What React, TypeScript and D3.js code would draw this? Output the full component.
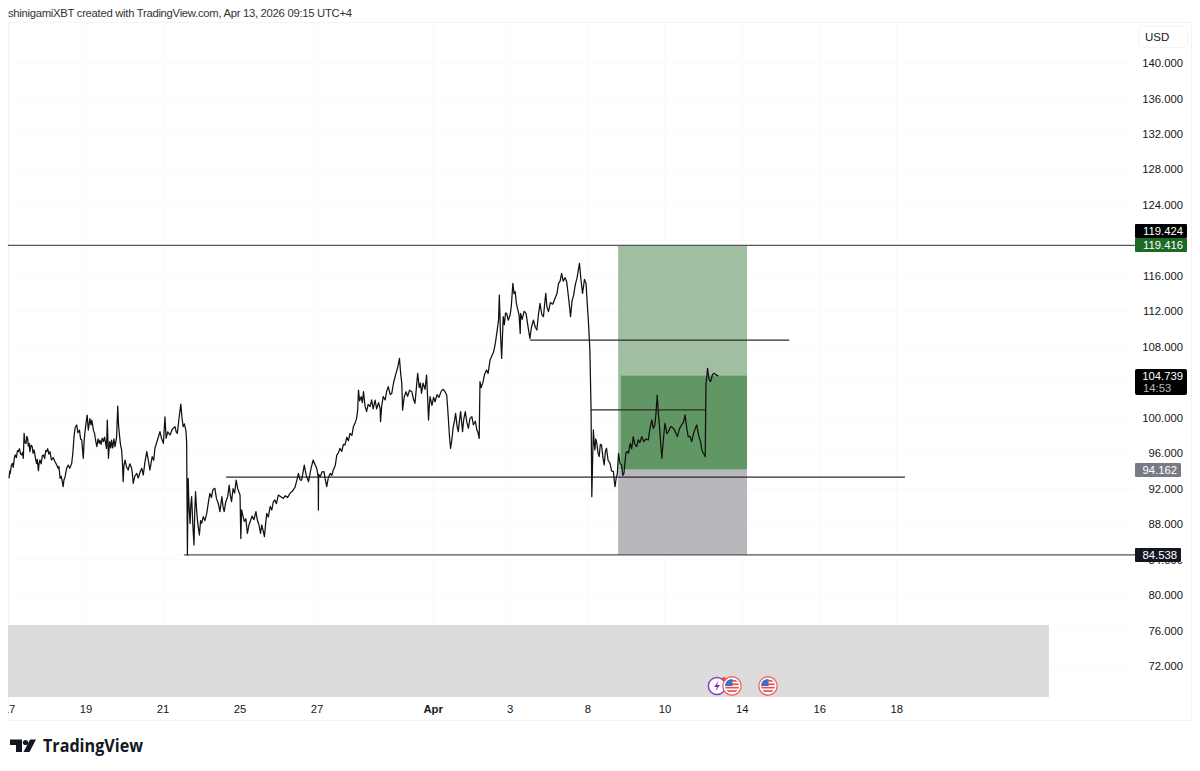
import React from 'react';
import * as d3 from 'd3';

const WIDTH = 1200;
const HEIGHT = 771;

type Bar = [number, number];

// [trading sessions since the first label, price]
const stretchMarchEarly: Bar[] = [
  [0, 93.16], [0.02, 94.0], [0.03, 93.7], [0.06, 94.6], [0.09, 94.85], [0.11, 94.4], [0.14, 95.5], [0.16, 95.8], [0.19, 95.5], [0.22, 96.3],
  [0.24, 96.17], [0.27, 96.5], [0.3, 95.9], [0.33, 95.8], [0.35, 96.1], [0.37, 95.42], [0.39, 98.23], [0.41, 97.2], [0.44, 97.1], [0.46, 97.9],
  [0.48, 97.67], [0.5, 96.8], [0.52, 97.1], [0.54, 96.17], [0.57, 96.9], [0.6, 96.73], [0.62, 96.0], [0.65, 96.36], [0.68, 95.5], [0.71, 94.85],
  [0.73, 95.3], [0.76, 94.02], [0.78, 94.9], [0.8, 95.23], [0.83, 94.8], [0.86, 95.7], [0.89, 95.8], [0.92, 95.4], [0.95, 96.3], [0.97, 96.17],
  [1.0, 96.5], [1.03, 95.9], [1.06, 96.17], [1.08, 95.6], [1.1, 95.23], [1.14, 95.5], [1.19, 95.04], [1.23, 94.7], [1.27, 94.29], [1.29, 94.5],
  [1.32, 93.16], [1.35, 93.4], [1.4, 92.22], [1.42, 93.0], [1.45, 93.35], [1.49, 94.3], [1.53, 94.66], [1.57, 94.3], [1.62, 94.85], [1.65, 96.0],
  [1.68, 97.86], [1.71, 98.9], [1.75, 99.18], [1.78, 98.3], [1.82, 98.61], [1.85, 97.6], [1.88, 97.48], [1.9, 96.4], [1.92, 95.42], [1.94, 97.3],
  [1.96, 98.23], [1.99, 99.4], [2.02, 100.3], [2.04, 99.1], [2.05, 98.61], [2.09, 99.9], [2.12, 99.2], [2.14, 99.74], [2.18, 98.6], [2.21, 98.23],
  [2.24, 97.4], [2.27, 96.73], [2.3, 97.6], [2.33, 97.1], [2.35, 97.48], [2.38, 97.0], [2.41, 97.7], [2.44, 97.3], [2.47, 97.8], [2.5, 97.0],
  [2.52, 96.54], [2.54, 99.74], [2.57, 95.42], [2.6, 97.3], [2.63, 96.6], [2.65, 97.48], [2.68, 96.6], [2.71, 97.6], [2.74, 96.73], [2.78, 97.8],
  [2.81, 101.32], [2.83, 99.2], [2.85, 98.23], [2.88, 97.0], [2.91, 96.36], [2.93, 95.0], [2.95, 92.78], [2.97, 94.6], [3.0, 95.23], [3.04, 94.4],
  [3.08, 94.1], [3.12, 94.8], [3.17, 94.29], [3.19, 93.6], [3.21, 92.6], [3.25, 93.4], [3.3, 93.72], [3.34, 93.2], [3.39, 93.91], [3.43, 94.3],
  [3.47, 93.54], [3.51, 94.9], [3.56, 96.17], [3.6, 95.2], [3.64, 94.1], [3.7, 95.6], [3.74, 95.2], [3.77, 96.54], [3.83, 97.4], [3.9, 98.42],
  [3.94, 97.7], [3.99, 97.1], [4.03, 100.1], [4.06, 97.67], [4.1, 98.4], [4.16, 98.05], [4.22, 98.7], [4.29, 98.99], [4.32, 98.4], [4.35, 98.23],
  [4.39, 99.8], [4.44, 101.54], [4.47, 100.0], [4.5, 98.99], [4.53, 99.3], [4.57, 98.61], [4.59, 97.3], [4.61, 84.51],
];

const stretchMarchLow: Bar[] = [
  [4.63, 93.16], [4.65, 90.2], [4.68, 88.08], [4.7, 90.3], [4.72, 91.09], [4.75, 87.9], [4.78, 85.64], [4.8, 89.4], [4.82, 91.66], [4.85, 89.4],
  [4.88, 88.0], [4.92, 86.77], [4.95, 88.4], [4.98, 88.1], [5.02, 88.84], [5.06, 88.4], [5.11, 89.21], [5.15, 90.4], [5.19, 91.47], [5.23, 91.0],
  [5.27, 91.9], [5.32, 92.03], [5.36, 90.9], [5.41, 90.3], [5.45, 89.4], [5.5, 91.09], [5.53, 90.0], [5.56, 89.4], [5.6, 90.5], [5.65, 91.1],
  [5.69, 92.41], [5.72, 91.2], [5.75, 90.53], [5.79, 92.0], [5.83, 91.5], [5.87, 92.97], [5.91, 92.0], [5.97, 91.28], [5.99, 86.39], [6.01, 89.6],
  [6.04, 89.02], [6.08, 88.3], [6.12, 88.6], [6.16, 86.96], [6.2, 87.9], [6.23, 88.27], [6.28, 88.9], [6.33, 88.5], [6.38, 89.4], [6.42, 88.4],
  [6.46, 87.9], [6.5, 86.96], [6.53, 87.9], [6.57, 87.2], [6.6, 86.58], [6.63, 88.0], [6.66, 89.21], [6.7, 88.8], [6.75, 90.0], [6.79, 89.59],
  [6.83, 90.5], [6.87, 90.72], [6.91, 90.3], [6.96, 91.28],
];

const stretchRally: Bar[] = [
  [7.05, 91.0], [7.09, 90.9], [7.14, 91.2], [7.2, 91.0], [7.26, 91.47], [7.32, 91.7], [7.39, 92.14], [7.44, 93.0], [7.48, 93.72], [7.52, 93.0],
  [7.56, 92.97], [7.6, 93.9], [7.63, 94.66], [7.68, 93.5], [7.74, 92.78], [7.8, 94.2], [7.86, 95.23], [7.91, 94.7], [7.95, 94.29], [7.99, 93.35],
  [7.995, 89.59], [8.0, 93.6], [8.04, 93.35], [8.09, 93.9], [8.14, 93.91], [8.17, 93.1], [8.21, 92.22], [8.25, 93.2], [8.3, 93.72], [8.34, 93.5],
  [8.38, 94.1], [8.43, 94.6], [8.47, 95.79], [8.51, 96.0], [8.55, 96.54], [8.6, 96.2], [8.64, 97.0], [8.68, 96.92], [8.73, 97.8], [8.77, 97.4],
  [8.81, 98.23], [8.86, 98.0], [8.9, 99.0], [8.94, 99.36], [8.98, 99.9], [9.01, 100.86], [9.03, 103.12], [9.06, 101.9], [9.1, 102.37], [9.13, 101.7],
  [9.16, 102.93], [9.2, 101.3], [9.24, 100.68], [9.28, 101.5], [9.33, 101.24], [9.37, 102.0], [9.41, 101.0], [9.46, 101.99], [9.5, 101.0], [9.55, 101.7],
  [9.59, 101.05], [9.6, 99.55], [9.63, 101.3], [9.67, 102.37], [9.72, 102.0], [9.76, 103.0], [9.8, 103.5], [9.85, 102.6], [9.89, 102.75], [9.94, 104.0],
  [10.0, 105.0], [10.04, 105.6], [10.09, 106.69], [10.12, 105.0], [10.15, 103.87], [10.17, 100.86], [10.21, 102.3], [10.26, 102.93], [10.3, 102.4], [10.35, 103.1],
  [10.41, 102.93], [10.45, 102.1], [10.49, 101.62], [10.53, 103.5], [10.56, 105.0], [10.6, 103.4], [10.63, 103.9], [10.66, 102.75], [10.7, 103.9], [10.75, 103.2],
  [10.79, 104.81], [10.82, 102.0], [10.84, 99.74], [10.86, 101.2], [10.88, 102.37], [10.93, 101.4], [10.97, 102.3], [11.01, 101.8], [11.06, 102.6], [11.11, 102.3],
  [11.17, 103.0], [11.22, 103.2], [11.27, 102.9], [11.31, 102.56], [11.33, 101.4], [11.35, 100.11], [11.38, 98.0], [11.41, 96.54], [11.44, 97.4], [11.48, 99.0],
  [11.51, 99.6], [11.54, 100.49], [11.58, 99.0], [11.61, 98.42], [11.64, 99.7], [11.67, 100.68], [11.7, 99.3], [11.72, 98.42], [11.75, 99.8], [11.79, 100.68],
  [11.83, 99.5], [11.87, 98.8], [11.91, 99.9], [11.96, 100.11], [12.0, 99.2], [12.05, 99.6], [12.09, 98.61], [12.12, 98.3], [12.15, 97.67],
];

const stretchPeak: Bar[] = [
  [12.17, 104.06], [12.2, 103.4], [12.24, 103.87], [12.29, 104.9], [12.34, 105.38], [12.38, 105.0], [12.43, 106.5], [12.47, 106.9], [12.52, 107.4], [12.56, 108.2],
  [12.6, 109.4], [12.65, 111.0], [12.67, 113.83], [12.7, 109.5], [12.73, 106.69], [12.75, 109.0], [12.77, 111.39], [12.8, 110.5], [12.83, 111.8], [12.86, 111.77],
  [12.9, 111.0], [12.95, 111.58], [12.98, 112.6], [13.02, 115.15], [13.05, 114.0], [13.08, 114.21], [13.11, 112.9], [13.14, 112.33], [13.18, 111.6], [13.21, 109.51],
  [13.22, 111.77], [13.26, 111.1], [13.31, 112.0], [13.36, 111.77], [13.41, 110.3], [13.46, 108.95], [13.5, 110.2], [13.55, 111.0], [13.6, 110.2], [13.64, 109.89],
  [13.68, 111.6], [13.72, 112.9], [13.77, 111.6], [13.81, 111.39], [13.84, 112.8], [13.87, 114.02], [13.9, 112.5], [13.94, 111.96], [13.99, 113.0], [14.05, 112.8],
  [14.11, 113.46], [14.16, 114.0], [14.2, 115.15], [14.24, 115.4], [14.28, 116.28], [14.32, 115.4], [14.37, 115.8], [14.41, 115.34], [14.46, 113.5], [14.51, 111.39],
  [14.55, 113.2], [14.59, 113.8], [14.63, 114.96], [14.68, 115.8], [14.74, 117.4], [14.78, 115.5], [14.82, 114.02], [14.87, 115.6], [14.91, 115.15], [14.94, 113.0],
  [14.97, 111.0], [15.01, 107.63], [15.04, 100.94],
];

const stretchApril: Bar[] = [
  [15.06, 91.1], [15.08, 95.0], [15.1, 98.62], [15.12, 97.2], [15.14, 96.36], [15.16, 97.6], [15.19, 97.11], [15.22, 96.0], [15.25, 95.61], [15.28, 97.0],
  [15.31, 96.93], [15.35, 95.4], [15.38, 94.67], [15.41, 96.2], [15.44, 96.55], [15.48, 95.2], [15.53, 94.86], [15.57, 94.0], [15.62, 93.92], [15.64, 92.9],
  [15.66, 92.23], [15.69, 93.2], [15.72, 93.73], [15.75, 95.99], [15.79, 94.8], [15.83, 94.67], [15.86, 93.5], [15.89, 93.73], [15.94, 95.99], [15.98, 96.2],
  [16.01, 96.0], [16.05, 97.11], [16.09, 96.5], [16.13, 97.87], [16.17, 97.0], [16.22, 96.74], [16.26, 97.5], [16.3, 97.2], [16.35, 97.87], [16.4, 97.3],
  [16.46, 97.6], [16.52, 97.49], [16.56, 98.7], [16.61, 99.75], [16.65, 98.8], [16.69, 99.18], [16.72, 100.6], [16.75, 102.56], [16.78, 100.4], [16.81, 98.99],
  [16.84, 97.0], [16.87, 95.42], [16.91, 97.6], [16.95, 99.37], [17.0, 98.2], [17.04, 98.43], [17.1, 99.0], [17.17, 98.8], [17.22, 98.4], [17.27, 97.87],
  [17.33, 98.8], [17.38, 99.18], [17.43, 99.5], [17.47, 100.31], [17.51, 98.9], [17.55, 97.87], [17.6, 97.9], [17.64, 97.3], [17.7, 98.4], [17.77, 99.18],
  [17.82, 98.0], [17.87, 97.3], [17.9, 96.4], [17.94, 95.99], [17.97, 95.8], [17.99, 95.61], [18.01, 103.88], [18.03, 104.6], [18.05, 105.57], [18.09, 104.3],
  [18.13, 104.07], [18.18, 104.9], [18.22, 105.0], [18.28, 104.8], [18.33, 104.71],
];

const bars = [...stretchMarchEarly, ...stretchMarchLow, ...stretchRally, ...stretchPeak, ...stretchApril];

const priceTicks = [140, 136, 132, 128, 124, 120, 116, 112, 108, 104, 100, 96, 92, 88, 84, 80, 76, 72];
// these two sit fully behind the price labels
const hiddenTicks = [120, 104];
const timeLabels = ['17', '19', '21', '25', '27', 'Apr', '3', '8', '10', '14', '16', '18'];
const timeTicks = [0, 1.99, 3.98, 5.97, 7.96, 10.96, 12.95, 14.96, 16.95, 18.95, 20.95, 22.94];

// drawn levels: price, from session, to session
const levelPrices = [119.424, 108.75, 100.88, 93.3, 84.538];
const levelStart = [-0.03, 13.46, 15.04, 5.61, 4.52];
const levelEnd = [29.1, 20.16, 18.01, 23.15, 29.1];

const targetPrice = 119.416;
const entryPrice = 94.162;
const stopPrice = 84.538;
const lastPrice = 104.739;
const boxStart = 15.74;
const boxFill = 15.81;
const boxEnd = 19.07;

const x = d3.scaleLinear().domain([0, 10]).range([9, 396]);
const y = d3.scaleLinear().domain([140, 72]).range([63, 666]);

const FONT = '"Liberation Sans", Arial, sans-serif';
const TICK_SIZE = 11.3;

const FlagIcon: React.FC<{ cx: number; cy: number; id: string }> = ({ cx, cy, id }) => (
  <g>
    <clipPath id={id}>
      <circle cx={cx} cy={cy} r={7} />
    </clipPath>
    <circle cx={cx} cy={cy} r={9.2} fill="#fff" stroke="#ef6b64" strokeWidth={1.4} />
    <g clipPath={`url(#${id})`}>
      <rect x={cx - 7} y={cy - 7} width={14} height={14} fill="#fff" />
      {d3.range(0, 4).map((i) => (
        <rect key={i} x={cx - 7} y={cy - 6 + i * 3.4} width={14} height={1.7} fill="#e5524c" />
      ))}
      <rect x={cx - 7} y={cy - 7} width={7.5} height={7} fill="#3d6fd1" />
    </g>
  </g>
);

const App: React.FC = () => {
  const line = d3
    .line<Bar>()
    .x((d) => x(d[0]))
    .y((d) => y(d[1]));

  return (
    <svg
      width={WIDTH}
      height={HEIGHT}
      style={{ position: 'absolute', left: 0, top: 0, background: '#fff', fontFamily: FONT }}
    >
      <defs>
        <clipPath id="pane">
          <rect x={8} y={22} width={1184} height={700} />
        </clipPath>
        <clipPath id="below-stop">
          <rect x={1130} y={562} width={60} height={6} />
        </clipPath>
      </defs>

      <text x={8} y={17} fontSize={11.3} fill="#333" textLength={344} lengthAdjust="spacing">
        shinigamiXBT created with TradingView.com, Apr 13, 2026 09:15 UTC+4
      </text>

      {/* frame and faint grid */}
      <g stroke="#fafafb" strokeWidth={1}>
        {priceTicks.map((p) => (
          <line key={p} x1={8} x2={1135} y1={y(p)} y2={y(p)} />
        ))}
        {timeTicks.map((t) => (
          <line key={t} x1={x(t)} x2={x(t)} y1={22} y2={697} />
        ))}
      </g>
      <rect x={8.5} y={22.5} width={1183} height={698} fill="none" stroke="#f3f4f6" />

      {/* session band at the bottom */}
      <rect x={8} y={625} width={1041} height={72} fill="#dcdcdc" />

      {/* long position box */}
      <rect x={x(boxStart)} width={x(boxEnd) - x(boxStart)} y={y(targetPrice)} height={y(entryPrice) - y(targetPrice)} fill="#a0bea1" />
      <rect x={x(boxStart)} width={x(boxEnd) - x(boxStart)} y={y(entryPrice)} height={y(stopPrice) - y(entryPrice)} fill="#b8b8bc" />
      <rect x={x(boxFill)} width={x(boxEnd) - x(boxFill)} y={y(lastPrice)} height={y(entryPrice) - y(lastPrice)} fill="#619665" />

      {/* levels */}
      {levelPrices.map((p, i) => (
        <line
          key={p}
          x1={x(levelStart[i])}
          x2={x(levelEnd[i])}
          y1={y(p)}
          y2={y(p)}
          stroke={i === 0 || i === 4 ? '#555' : '#2a2a2a'}
          strokeWidth={1.3}
        />
      ))}

      <g clipPath="url(#pane)">
        <path d={line(bars) ?? ''} fill="none" stroke="#111" strokeWidth={1.25} strokeLinejoin="round" />
      </g>

      {/* price axis */}
      <rect x={1138.5} y={26.5} width={49} height={21} rx={4} fill="#fff" stroke="#f4f4f5" />
      <text x={1145} y={41} fontSize={11.5} fill="#131722">
        USD
      </text>
      {priceTicks
        .filter((p) => !hiddenTicks.includes(p) && p !== 84)
        .map((p) => (
          <text key={p} x={1183} y={y(p)} dy="0.36em" fontSize={TICK_SIZE} textAnchor="end" fill="#131722">
            {d3.format('.3f')(p)}
          </text>
        ))}
      <text x={1183} y={y(84)} dy="0.36em" fontSize={TICK_SIZE} textAnchor="end" fill="#131722" clipPath="url(#below-stop)">
        84.000
      </text>

      <rect x={1135} y={224} width={52} height={14} rx={1} fill="#000" />
      <text x={1183} y={235} fontSize={TICK_SIZE} textAnchor="end" fill="#fff">119.424</text>
      <rect x={1135} y={238} width={52} height={14} rx={1} fill="#1d6a27" />
      <text x={1183} y={249} fontSize={TICK_SIZE} textAnchor="end" fill="#fff">119.416</text>
      <rect x={1135} y={369} width={52} height={26} rx={2} fill="#000" />
      <text x={1183} y={380} fontSize={TICK_SIZE} textAnchor="end" fill="#fff">104.739</text>
      <text x={1143} y={392} fontSize={TICK_SIZE} fill="#b8b8b8">14:53</text>
      <rect x={1135} y={463} width={46} height={14} rx={1} fill="#787b86" />
      <text x={1177} y={474} fontSize={TICK_SIZE} textAnchor="end" fill="#fff">94.162</text>
      <rect x={1135} y={548} width={46} height={14} rx={1} fill="#131722" />
      <text x={1177} y={559} fontSize={TICK_SIZE} textAnchor="end" fill="#fff">84.538</text>

      {/* time axis */}
      <g clipPath="url(#pane)">
        {timeLabels.map((label, i) => (
          <text
            key={label}
            x={x(timeTicks[i])}
            y={713}
            fontSize={TICK_SIZE}
            textAnchor="middle"
            fontWeight={label === 'Apr' ? 700 : 400}
            fill="#131722"
          >
            {label}
          </text>
        ))}
      </g>

      {/* event markers */}
      <circle cx={717} cy={686} r={8.6} fill="#fff" stroke="#8a3fc4" strokeWidth={1.5} />
      <path d="M718.5 681 L714 687 L717 687 L715.5 691 L720 685 L717 685 Z" fill="#7a2fb8" />
      <FlagIcon cx={732} cy={686} id="flag-a" />
      <circle cx={724} cy={679} r={2} fill="#ef4444" />
      <FlagIcon cx={768} cy={686} id="flag-b" />

      {/* TradingView logo */}
      <g fill="#131722">
        <path d="M10 739.5 H22 V752 H16 V745 H10 Z" />
        <circle cx={25.5} cy={742.5} r={2.6} />
        <path d="M30 739.5 H36 L29.5 752 H23.5 Z" />
      </g>
      <text x={43} y={752} fontSize={17.5} fontWeight={700} fill="#131722" textLength={100} lengthAdjust="spacingAndGlyphs" fontFamily='"Open Sans", sans-serif'>
        TradingView
      </text>
    </svg>
  );
};

export default App;
